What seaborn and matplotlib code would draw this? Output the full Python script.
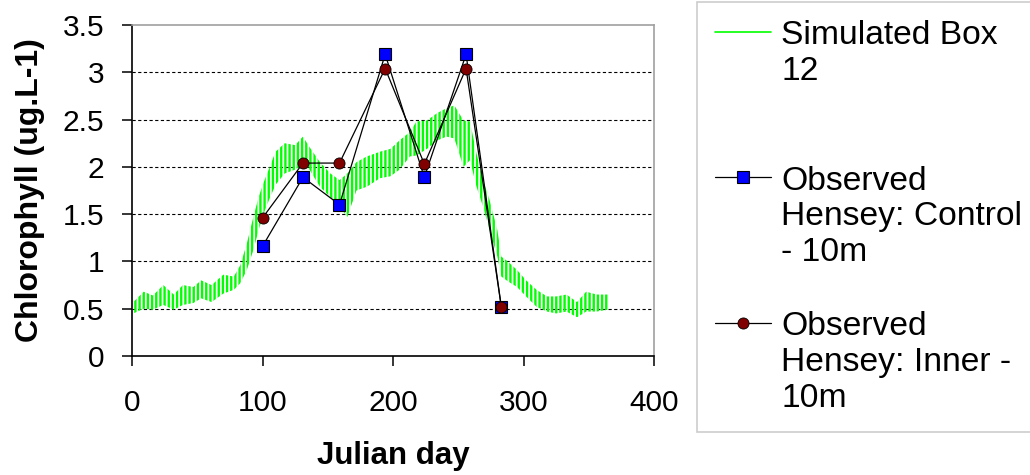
import matplotlib
matplotlib.use("Agg")
import matplotlib.pyplot as plt
import numpy as np
import pandas as pd
import seaborn as sns
from matplotlib.lines import Line2D

# ---- data ----
sim_day = [1, 9, 16, 24, 32, 39, 47, 53, 61, 70, 78, 83, 88, 93, 97, 101, 105,
           110, 117, 125, 131, 136, 144, 152, 159, 165, 172, 180, 190, 198, 205,
           213, 218, 226, 234, 241, 247, 254, 259, 264, 269, 274, 280, 283, 288,
           295, 302, 310, 318, 325, 333, 341, 348, 356, 365]
sim_high = [0.57, 0.68, 0.64, 0.75, 0.65, 0.75, 0.73, 0.80, 0.75, 0.86, 0.84,
            0.96, 1.19, 1.47, 1.68, 1.84, 1.98, 2.16, 2.25, 2.23, 2.32, 2.21,
            2.05, 1.93, 1.86, 1.93, 2.05, 2.11, 2.16, 2.19, 2.28, 2.37, 2.48,
            2.49, 2.57, 2.62, 2.65, 2.49, 2.48, 2.14, 1.86, 1.65, 1.33, 1.05,
            1.00, 0.91, 0.80, 0.70, 0.63, 0.63, 0.65, 0.57, 0.68, 0.65, 0.65]
sim_low = [0.45, 0.50, 0.49, 0.54, 0.49, 0.54, 0.56, 0.61, 0.57, 0.66, 0.70,
           0.77, 0.91, 1.12, 1.33, 1.51, 1.65, 1.81, 1.93, 1.97, 2.02, 1.97,
           1.79, 1.68, 1.58, 1.47, 1.75, 1.79, 1.88, 1.90, 1.97, 2.11, 2.12,
           2.19, 2.28, 2.32, 2.30, 2.00, 2.07, 1.79, 1.58, 1.33, 1.05, 0.84,
           0.79, 0.73, 0.63, 0.52, 0.47, 0.45, 0.47, 0.41, 0.47, 0.47, 0.49]

obs_day = [100, 131, 159, 194, 224, 256, 283]
obs_control = [1.16, 1.89, 1.60, 3.19, 1.89, 3.19, 0.52]
obs_inner = [1.46, 2.04, 2.04, 3.04, 2.03, 3.04, 0.52]

x_ticks = [0, 100, 200, 300, 400]
y_ticks = [0, 0.5, 1, 1.5, 2, 2.5, 3, 3.5]
y_tick_labels = ["0", "0.5", "1", "1.5", "2", "2.5", "3", "3.5"]
legend_labels = ["Simulated Box\n12\n ",
                 "Observed\nHensey: Control\n- 10m",
                 "Observed\nHensey: Inner -\n10m"]
x_label = "Julian day"
y_label = "Chlorophyll (ug.L-1)"

# ---- style ----
sns.set_theme(style="white")
plt.rcParams["font.family"] = ["Liberation Sans", "DejaVu Sans"]
plt.rcParams["text.color"] = "black"
plt.rcParams["axes.labelcolor"] = "black"
plt.rcParams["xtick.color"] = "black"
plt.rcParams["ytick.color"] = "black"
plt.rcParams["hatch.linewidth"] = 1.7

fig = plt.figure(figsize=(10.3, 4.75), dpi=100)
ax = fig.add_axes([132 / 1030, 1 - 356 / 475, (654 - 132) / 1030, (356 - 25) / 475])

# simulated series (dense oscillation drawn as a hatched envelope)
ax.fill_between(sim_day, sim_low, sim_high, facecolor="none",
                edgecolor="#00ff00", hatch="||||", linewidth=0, zorder=2)

df = pd.DataFrame({"day": obs_day, "control": obs_control, "inner": obs_inner})
sns.lineplot(data=df, x="day", y="control", ax=ax, color="black", lw=0.9,
             marker="s", markersize=8.5, markerfacecolor="#0000ff",
             markeredgecolor="black", markeredgewidth=0.8, zorder=3)
sns.lineplot(data=df, x="day", y="inner", ax=ax, color="black", lw=0.9,
             marker="o", markersize=8, markerfacecolor="#800000",
             markeredgecolor="black", markeredgewidth=0.6, zorder=4)

ax.set_xlim(0, 400)
ax.set_ylim(0, 3.5)
ax.set_xticks(x_ticks)
ax.set_xticklabels([str(t) for t in x_ticks])
ax.set_yticks(y_ticks)
ax.set_yticklabels(y_tick_labels)
ax.tick_params(axis="both", direction="out", length=7, width=1.1,
               labelsize=21.5, left=True, bottom=True)
ax.tick_params(axis="y", pad=13)
ax.tick_params(axis="x", pad=17)

ax.yaxis.grid(True, color="black", linestyle=(0, (2.9, 2.2)), linewidth=0.8)
ax.xaxis.grid(False)
ax.set_axisbelow(True)
gl = ax.yaxis.get_gridlines()
gl[0].set_visible(False)
gl[-1].set_visible(False)

for s in ["left", "bottom"]:
    ax.spines[s].set_color("black")
    ax.spines[s].set_linewidth(1.2)
for s in ["top", "right"]:
    ax.spines[s].set_color("#a0a0a0")
    ax.spines[s].set_linewidth(1.2)

ax.set_xlabel(x_label, fontsize=22.5, fontweight="bold", labelpad=17)
ax.set_ylabel(y_label, fontsize=23, fontweight="bold", labelpad=13)

sim_handle = Line2D([], [], color="#00ff00", lw=1.2)
ctrl_handle = Line2D([], [], color="black", lw=0.9, marker="s", markersize=8.5,
                     markerfacecolor="#0000ff", markeredgecolor="black",
                     markeredgewidth=0.8)
inner_handle = Line2D([], [], color="black", lw=0.9, marker="o", markersize=8,
                      markerfacecolor="#800000", markeredgecolor="black",
                      markeredgewidth=0.6)
leg = fig.legend(handles=[sim_handle, ctrl_handle, inner_handle],
                 labels=legend_labels, loc="lower left",
                 bbox_to_anchor=(697 / 1030, 1 - 432 / 475), borderaxespad=0,
                 frameon=True, fancybox=False, edgecolor="#c0c0c0",
                 fontsize=24.2, handlelength=1.65, handletextpad=0.3,
                 borderpad=0.55, labelspacing=1.27)
leg.get_frame().set_linewidth(1.2)
for col in leg._legend_handle_box.get_children():
    for row in col.get_children():
        row.align = "top"

fig.savefig("out.png", dpi=100, facecolor="white")
